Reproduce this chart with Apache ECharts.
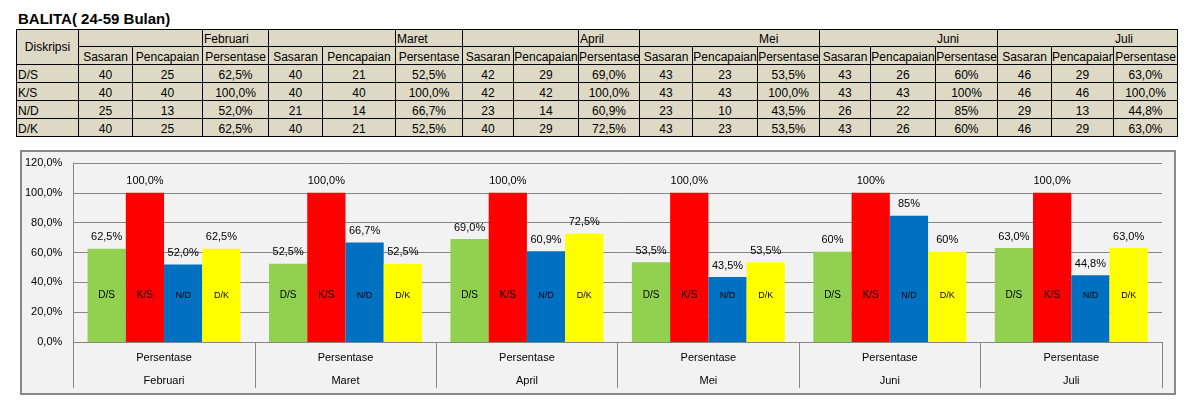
<!DOCTYPE html>
<html><head><meta charset="utf-8">
<script src="https://cdn.jsdelivr.net/npm/echarts@6/dist/echarts.min.js"></script>
<style>
html,body{margin:0;padding:0;background:#fff;width:1193px;height:409px;overflow:hidden;font-family:"Liberation Sans",Arial,sans-serif;}
#title{position:absolute;left:18px;top:10px;font-weight:bold;font-size:15px;color:#000;white-space:nowrap;}
#tbl{position:absolute;left:0;top:0;}
.cell{position:absolute;box-sizing:border-box;border:1px solid #000;background:#DDD9C4;font-size:12px;line-height:14px;color:#000;white-space:nowrap;overflow:hidden;text-align:center;}
#chartBox{position:absolute;left:20px;top:150px;width:1156px;height:245px;box-sizing:border-box;border:2px solid #898989;background:#F2F2F2;}
#chart{position:absolute;left:0;top:0;width:1152px;height:241px;}
</style></head>
<body>
<div id="title"></div>
<div id="tbl"></div>
<div id="chartBox"><div id="chart"></div></div>
<script>
// ---- data ----
const titleText = 'BALITA( 24-59 Bulan)';
const firstHeader = 'Diskripsi';
const months = ['Februari', 'Maret', 'April', 'Mei', 'Juni', 'Juli'];
const subHeaders = ['Sasaran', 'Pencapaian', 'Persentase'];
const descriptors = ['D/S', 'K/S', 'N/D', 'D/K'];
const sasaran = [
  [40, 40, 42, 43, 43, 46],
  [40, 40, 42, 43, 43, 46],
  [25, 21, 23, 23, 26, 29],
  [40, 40, 40, 43, 43, 46]
];
const pencapaian = [
  [25, 21, 29, 23, 26, 29],
  [40, 40, 42, 43, 43, 46],
  [13, 14, 14, 10, 22, 13],
  [25, 21, 29, 23, 26, 29]
];
const persentase = [
  [62.5, 52.5, 69.0, 53.5, 60.47, 63.0],
  [100, 100, 100, 100, 100, 100],
  [52.0, 66.7, 60.9, 43.5, 84.62, 44.8],
  [62.5, 52.5, 72.5, 53.5, 60.47, 63.0]
];
const decimals = [1, 1, 1, 1, 0, 1];
const axisTier = 'Persentase';
const yMin = 0, yMax = 120, yStep = 20;

// ---- style / layout ----
const seriesColors = ['#92D050', '#FF0000', '#0070C0', '#FFFF00'];
const colX = [16, 78, 132, 202, 268, 322, 395, 462, 513, 578, 639, 692, 757, 819, 870, 935, 997, 1051, 1113, 1177];
const rowY = [29, 46, 64, 82, 100, 118, 136];
const mergedMonthHeader = [false, false, false, true, true, true];
const fmt = (v, d) => v.toFixed(d).replace('.', ',') + '%';

document.getElementById('title').textContent = titleText;

const tbl = document.getElementById('tbl');
function cell(x0, x1, y0, y1, text, extra) {
  const d = document.createElement('div');
  d.className = 'cell';
  d.style.left = x0 + 'px';
  d.style.top = y0 + 'px';
  d.style.width = (x1 - x0 + 1) + 'px';
  d.style.height = (y1 - y0 + 1) + 'px';
  d.style.paddingTop = ((y1 - y0) >= 18 ? 3 : 2) + 'px';
  if (extra) Object.assign(d.style, extra);
  d.textContent = text;
  tbl.appendChild(d);
}
// header
cell(colX[0], colX[1], rowY[0], rowY[2], firstHeader, { paddingTop: '10px' });
months.forEach((m, i) => {
  const a = colX[1 + i * 3], b = colX[2 + i * 3], c = colX[3 + i * 3], e = colX[4 + i * 3];
  if (mergedMonthHeader[i]) {
    cell(a, e, rowY[0], rowY[1], m, { textAlign: 'left', paddingLeft: (c - a + 1) + 'px' });
  } else {
    cell(a, c, rowY[0], rowY[1], '');
    cell(c, e, rowY[0], rowY[1], m, { textAlign: 'left', paddingLeft: '1px' });
  }
  subHeaders.forEach((s, k) => cell(colX[1 + i * 3 + k], colX[2 + i * 3 + k], rowY[1], rowY[2], s));
});
// body
descriptors.forEach((name, r) => {
  const y0 = rowY[2 + r], y1 = rowY[3 + r];
  cell(colX[0], colX[1], y0, y1, name, { textAlign: 'left', paddingLeft: '1px' });
  months.forEach((m, i) => {
    cell(colX[1 + i * 3], colX[2 + i * 3], y0, y1, String(sasaran[r][i]));
    cell(colX[2 + i * 3], colX[3 + i * 3], y0, y1, String(pencapaian[r][i]));
    cell(colX[3 + i * 3], colX[4 + i * 3], y0, y1, fmt(persentase[r][i], decimals[i]));
  });
});

// ---- chart ----
const gridColor = '#868686';
const chart = echarts.init(document.getElementById('chart'), null, { renderer: 'canvas' });
const series = [];
descriptors.forEach((name, i) => {
  series.push({
    name: name, type: 'bar', xAxisIndex: 0, data: persentase[i],
    barGap: '0%', barCategoryGap: '15.7%',
    itemStyle: { color: seriesColors[i] },
    label: { show: true, position: 'top', distance: 6, fontSize: 11, color: '#000',
      formatter: p => fmt(p.value, decimals[p.dataIndex]) }
  });
});
descriptors.forEach((name, i) => {
  series.push({
    name: name + ' label', type: 'bar', xAxisIndex: 1, data: persentase[i],
    barGap: '0%', barCategoryGap: '15.7%', silent: true, z: 3,
    itemStyle: { color: 'rgba(0,0,0,0)' },
    label: { show: true, position: 'insideBottom', distance: 42, fontSize: i < 2 ? 10 : 9, color: '#000',
      formatter: name }
  });
});
chart.setOption({
  animation: false,
  textStyle: { fontFamily: '"Liberation Sans", Arial, sans-serif', color: '#000' },
  grid: { left: 51, right: 12, top: 11, bottom: 51 },
  xAxis: [{
    type: 'category', data: months,
    axisLine: { show: true, lineStyle: { color: gridColor } },
    axisTick: { show: true, interval: 0, length: 46, lineStyle: { color: gridColor } },
    axisLabel: { interval: 0, margin: 4, fontSize: 11, lineHeight: 23, color: '#000',
      formatter: m => axisTier + '\n' + m }
  }, {
    type: 'category', data: months, show: false
  }],
  yAxis: {
    type: 'value', min: yMin, max: yMax, interval: yStep,
    axisLine: { show: true, lineStyle: { color: gridColor } },
    axisTick: { show: false },
    splitLine: { show: true, lineStyle: { color: gridColor } },
    axisLabel: { fontSize: 11, color: '#000', margin: 11, formatter: v => fmt(v, 1) }
  },
  series: series
});
</script>
</body></html>
